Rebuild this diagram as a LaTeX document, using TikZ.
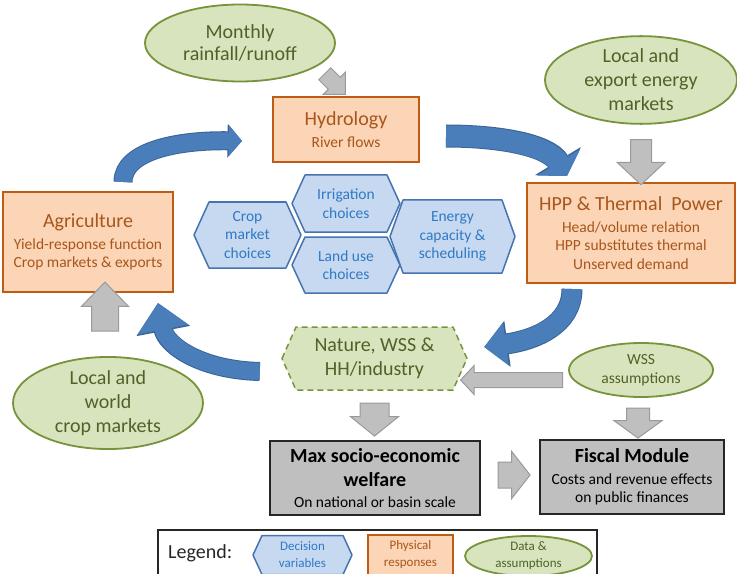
\documentclass[tikz,border=0pt]{standalone}
\usepackage{fontspec}
\setmainfont{Carlito}
\usetikzlibrary{arrows.meta,shapes.geometric,shapes.arrows,calc}

\definecolor{physfill}{HTML}{FBD5B5}
\definecolor{physdraw}{HTML}{BE5B15}
\definecolor{phystext}{HTML}{A8561C}
\definecolor{datafill}{HTML}{D7E4BD}
\definecolor{datadraw}{HTML}{77933C}
\definecolor{datatext}{HTML}{4F6228}
\definecolor{decfill}{HTML}{C6D9F1}
\definecolor{decdraw}{HTML}{4674B0}
\definecolor{dectext}{HTML}{3079C4}
\definecolor{flowblue}{HTML}{4A7EBB}
\definecolor{flowedge}{HTML}{3A6496}
\definecolor{blockfill}{HTML}{BFBFBF}
\definecolor{blockdraw}{HTML}{9A9A9A}
\definecolor{outfill}{HTML}{BFBFBF}

\newcommand{\bigtxt}{\fontsize{20bp}{24bp}\selectfont}
\newcommand{\smalltxt}{\fontsize{15.5bp}{18.5bp}\selectfont}
\newcommand{\tinytxt}{\fontsize{13bp}{17bp}\selectfont}

% hexagon: draw style, text style, name, cx, cy, half width, half height, inset, text
\newcommand{\hexbox}[9]{%
  \draw[#1] ({#4-#6},{#5}) -- ({#4-#6+#8},{#5-#7}) -- ({#4+#6-#8},{#5-#7})
    -- ({#4+#6},{#5}) -- ({#4+#6-#8},{#5+#7}) -- ({#4-#6+#8},{#5+#7}) -- cycle;
  \node[#2, minimum width={(2*#6)*1bp}, minimum height={(2*#7)*1bp}] (#3) at (#4,#5) {#9};
}

% curved flow arrow: tail, control 1, control 2, tip, shaft width, head width, head length
\newcommand{\flowarrow}[7]{%
  \pgfmathsetmacro{\flowshaft}{#5+2}%
  \pgfmathsetmacro{\flowhead}{#6+3}%
  \pgfmathsetmacro{\flowlen}{#7+1.5}%
  \draw[draw=flowedge, line width=\flowshaft bp,
        -{Triangle[width=\flowhead bp, length=\flowlen bp]}] #1 .. controls #2 and #3 .. #4;
  \draw[draw=flowblue, line width=#5bp,
        -{Triangle[width=#6bp, length=#7bp]}] #1 .. controls #2 and #3 .. #4;
}

\begin{document}
\begin{tikzpicture}[x=1bp, y=-1bp,
  phys/.style={draw=physdraw, fill=physfill, line width=2bp, text=phystext,
    align=center, inner sep=0pt, font=\smalltxt},
  data/.style={ellipse, draw=datadraw, fill=datafill, line width=1.8bp,
    text=datatext, align=center, inner sep=0pt, font=\bigtxt},
  result/.style={draw=black!85, fill=outfill, line width=2bp, align=center,
    inner sep=0pt, font=\smalltxt},
  decshape/.style={draw=decdraw, fill=decfill, line width=1.5bp, line join=round},
  dectext/.style={text=dectext, align=center, inner sep=0pt, font=\smalltxt},
  natshape/.style={draw=datadraw, fill=datafill, line width=1.5bp,
    dash pattern=on 6bp off 4bp},
  nattext/.style={text=datatext, align=center, inner sep=0pt, font=\bigtxt},
  blockarrow/.style={single arrow, draw=blockdraw, fill=blockfill,
    line width=1bp, inner xsep=0pt},
]
\path[use as bounding box] (0,0) rectangle (737,574);
\clip (0,0) rectangle (737,574);

% physical responses
\node[phys, minimum width=146bp, minimum height=65bp] (hydro) at (346,129.5)
  {{\bigtxt Hydrology}\\[3bp]River flows};
\node[phys, minimum width=170bp, minimum height=100bp] (agri) at (88,242)
  {{\bigtxt Agriculture}\\[3bp]Yield-response function\\Crop markets \& exports};
\node[phys, minimum width=208bp, minimum height=100bp] (hpp) at (631,233)
  {{\bigtxt HPP \& Thermal\ \ Power}\\[3bp]Head/volume relation\\HPP substitutes thermal\\Unserved demand};

% data and assumptions
\node[data, minimum width=190bp, minimum height=77bp] (rain) at (240,43)
  {Monthly\\[-2bp]rainfall/runoff};
\node[data, minimum width=192bp, minimum height=76bp] (enmkt) at (641,80)
  {Local and\\export energy\\markets};
\node[data, minimum width=190bp, minimum height=77bp] (cropmkt) at (108,403)
  {Local and\\world\\crop markets};
\node[data, minimum width=144bp, minimum height=54bp, font=\smalltxt] (wss) at (641,370)
  {WSS\\[1bp]assumptions};

% decision variables
\hexbox{decshape}{dectext}{cropch}{247.5}{235}{53.5}{33}{15}{Crop\\market\\choices}
\hexbox{decshape}{dectext}{irrch}{346}{203.5}{54}{28.5}{13}{Irrigation\\choices}
\hexbox{decshape}{dectext}{landch}{346}{265}{54}{28}{13}{Land use\\choices}
\hexbox{decshape}{dectext}{energych}{452.5}{236.5}{62.5}{36.5}{13}{Energy\\capacity \&\\scheduling}

% nature and users
\hexbox{natshape}{nattext}{nature}{374.5}{358.5}{92.5}{31.5}{14}{Nature, WSS \&\\HH/industry}

% outcomes
\node[result, minimum width=210bp, minimum height=74bp, font=\bigtxt\bfseries] (welfare) at (375,478)
  {Max socio-economic\\welfare\\[-3bp]{\smalltxt\mdseries On national or basin scale}};
\node[result, minimum width=184bp, minimum height=74bp] (fiscal) at (632,477)
  {{\bigtxt\bfseries Fiscal Module}\\[3bp]Costs and revenue effects\\on public finances};

% main water cycle
\flowarrow{($(agri.north)+(35,-9)$)}{(123,150)}{(180,140)}{($(hydro.west)+(-30,11.5)$)}{17}{30}{13}
\flowarrow{($(hydro.east)+(26,6.5)$)}{(500,136)}{(548,145)}{($(hpp.north)+(-64,-6)$)}{21}{50}{16}
\flowarrow{($(hpp.south)+(-59,5)$)}{(572,325)}{(535,340)}{($(nature.east)+(17,-11.5)$)}{19}{42}{22}
\flowarrow{($(nature.west)+(-22,13)$)}{(200,370)}{(166,345)}{($(agri.south)+(70,10)$)}{17}{50}{27}

% inputs and outputs (shaft = 2 x inner ysep, head = shaft + 2 x head extend)
\node[blockarrow, rotate=-45, minimum height=29bp, inner ysep=8bp,
  single arrow head extend=7bp] (rainarrow) at ($(hydro.north)+(-14,-15)$) {};
\node[blockarrow, rotate=-90, minimum height=45bp, inner ysep=10bp,
  single arrow head extend=13.5bp, single arrow tip angle=94] (mktarrow) at ($(enmkt.south)+(0,32.5)$) {};
\node[blockarrow, rotate=90, minimum height=49bp, inner ysep=13bp,
  single arrow head extend=10bp, single arrow tip angle=88] (croparrow) at ($(cropmkt.north)+(-3,-42.5)$) {};
\node[blockarrow, rotate=-90, minimum height=33bp, inner ysep=14bp,
  single arrow head extend=9.5bp, single arrow tip angle=102] (natarrow) at ($(nature.south)+(0,23.5)$) {};
\node[blockarrow, rotate=180, minimum height=102bp, inner ysep=7bp,
  single arrow head extend=7bp, single arrow tip angle=94] (wssnat) at ($(wss.west)+(-53,10)$) {};
\node[blockarrow, rotate=-90, minimum height=30bp, inner ysep=11bp,
  single arrow head extend=12.5bp, single arrow tip angle=108] (wssfis) at ($(wss.south)+(-3,21)$) {};
\node[blockarrow, minimum height=32bp, inner ysep=12.5bp,
  single arrow head extend=10.5bp, single arrow tip angle=104] (welfis) at ($(welfare.east)+(28,-3)$) {};

% legend
\node[draw=black!85, line width=1.5bp, minimum width=439bp, minimum height=60bp,
  inner sep=0pt] (legend) at (377.5,560) {};
\node[font=\bigtxt, text=black!85, anchor=west, inner sep=0pt] (legendtitle) at (168,553) {Legend:};
\hexbox{decshape}{dectext, font=\tinytxt}{legdec}{302.5}{555}{49.5}{19.5}{9}{Decision\\variables}
\node[phys, font=\tinytxt, minimum width=85bp, minimum height=40bp, line width=1.8bp] (legphys)
  at (410.5,555) {Physical\\responses};
\node[data, font=\tinytxt, minimum width=127bp, minimum height=40bp] (legdata)
  at (528.5,556) {Data \&\\assumptions};
\end{tikzpicture}
\end{document}
